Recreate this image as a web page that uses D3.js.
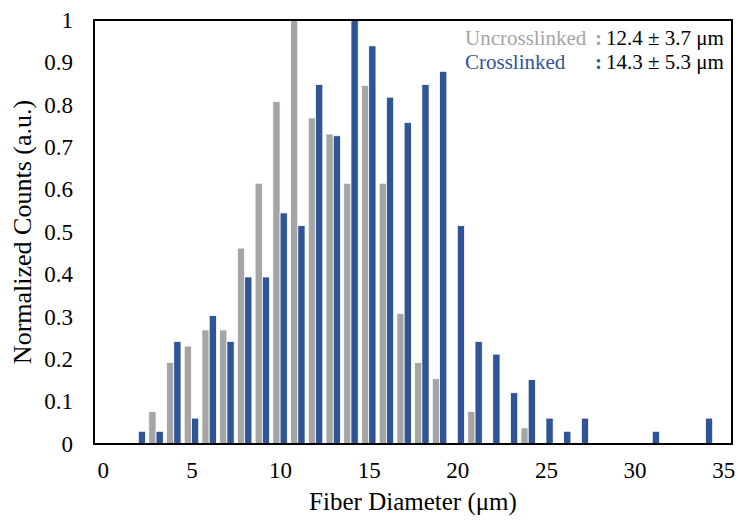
<!DOCTYPE html>
<html>
<head>
<meta charset="utf-8">
<script src="https://cdn.jsdelivr.net/npm/d3@7"></script>
<style>
  html, body { margin: 0; padding: 0; background: #fff; }
  svg { display: block; }
  text { font-family: "Liberation Serif", "Times New Roman", serif; }
</style>
</head>
<body>
<svg id="chart" width="738" height="525"></svg>
<script>
// Bin centers (µm)
const uncrosslinkedBins = [3,4,5,6,7,8,9,10,11,12,13,14,15,16,17,18,19,20,21,22,23,24];
const uncrosslinkedValues = [0.077,0.192,0.231,0.269,0.269,0.462,0.615,0.808,1.000,0.769,0.731,0.615,0.846,0.615,0.308,0.192,0.154,0,0.077,0,0,0.038];

const crosslinkedBins = [2,3,4,5,6,7,8,9,10,11,12,13,14,15,16,17,18,19,20,21,22,23,24,25,26,27,28,29,30,31,32,33,34];
const crosslinkedValues = [0.030,0.030,0.242,0.061,0.303,0.242,0.394,0.394,0.545,0.515,0.848,0.727,1.000,0.939,0.818,0.758,0.848,0.879,0.515,0.242,0.212,0.121,0.152,0.061,0.030,0.061,0,0,0,0.030,0,0,0.061];

const xTicks = [0,5,10,15,20,25,30,35];
const yTicks = [0,0.1,0.2,0.3,0.4,0.5,0.6,0.7,0.8,0.9,1];

const legendNames = ["Uncrosslinked", "Crosslinked"];
const legendStats = ["12.4 ± 3.7 μm", "14.3 ± 5.3 μm"];

const colors = { gray: "#A5A5A5", blue: "#2F5597" };

const svg = d3.select("#chart");
const L = 94, R = 732, T = 20, B = 444;

const x = d3.scaleLinear().domain([-0.5, 35.5]).range([L, R]);
const y = d3.scaleLinear().domain([0, 1]).range([B, T]);
const bw = x(0.41) - x(0);

// bars
const g = svg.append("g");
g.selectAll("rect.unc")
  .data(uncrosslinkedBins.map((b, i) => ({b, v: uncrosslinkedValues[i]})).filter(d => d.v > 0))
  .join("rect")
  .attr("class", "unc")
  .attr("x", d => x(d.b) - bw)
  .attr("width", bw)
  .attr("y", d => y(d.v))
  .attr("height", d => y(0) - y(d.v))
  .attr("fill", colors.gray)
  .attr("stroke", "#fff")
  .attr("stroke-width", 0.8);

g.selectAll("rect.cro")
  .data(crosslinkedBins.map((b, i) => ({b, v: crosslinkedValues[i]})).filter(d => d.v > 0))
  .join("rect")
  .attr("class", "cro")
  .attr("x", d => x(d.b))
  .attr("width", bw)
  .attr("y", d => y(d.v))
  .attr("height", d => y(0) - y(d.v))
  .attr("fill", colors.blue)
  .attr("stroke", "#fff")
  .attr("stroke-width", 0.8);

// frame
svg.append("rect")
  .attr("x", L).attr("y", T)
  .attr("width", R - L).attr("height", B - T)
  .attr("fill", "none")
  .attr("stroke", "#000")
  .attr("stroke-width", 2);

// axes (labels only)
const xAxis = d3.axisBottom(x).tickValues(xTicks).tickSize(0).tickPadding(18);
const xg = svg.append("g").attr("transform", `translate(0,${B})`).call(xAxis);
xg.select(".domain").remove();
xg.selectAll("text").attr("font-size", 23).attr("fill", "#000")
  .style("font-family", "'Liberation Serif', serif");

const yAxis = d3.axisLeft(y).tickValues(yTicks).tickSize(0).tickPadding(21).tickFormat(d => d3.format("")(+d.toFixed(1)));
const yg = svg.append("g").attr("transform", `translate(${L},0)`).call(yAxis);
yg.select(".domain").remove();
yg.selectAll("text").attr("font-size", 23).attr("fill", "#000")
  .style("font-family", "'Liberation Serif', serif");

// axis titles
svg.append("text")
  .attr("x", (L + R) / 2)
  .attr("y", 510)
  .attr("text-anchor", "middle")
  .attr("font-size", 25)
  .attr("fill", "#000")
  .text("Fiber Diameter (μm)");

svg.append("text")
  .attr("transform", `translate(31,${(T + B) / 2}) rotate(-90)`)
  .attr("text-anchor", "middle")
  .attr("font-size", 26)
  .attr("fill", "#000")
  .text("Normalized Counts (a.u.)");

// legend
const legColors = [colors.gray, colors.blue];
legendNames.forEach((name, i) => {
  const yy = 45 + i * 24;
  svg.append("text").attr("x", 465).attr("y", yy).attr("font-size", 21)
    .attr("fill", legColors[i]).text(name);
  svg.append("text").attr("x", 595).attr("y", yy).attr("font-size", 21)
    .attr("fill", legColors[i]).attr("font-weight", "bold").text(":");
  svg.append("text").attr("x", 606).attr("y", yy).attr("font-size", 21)
    .attr("fill", "#000").text(legendStats[i]);
});
</script>
</body>
</html>
